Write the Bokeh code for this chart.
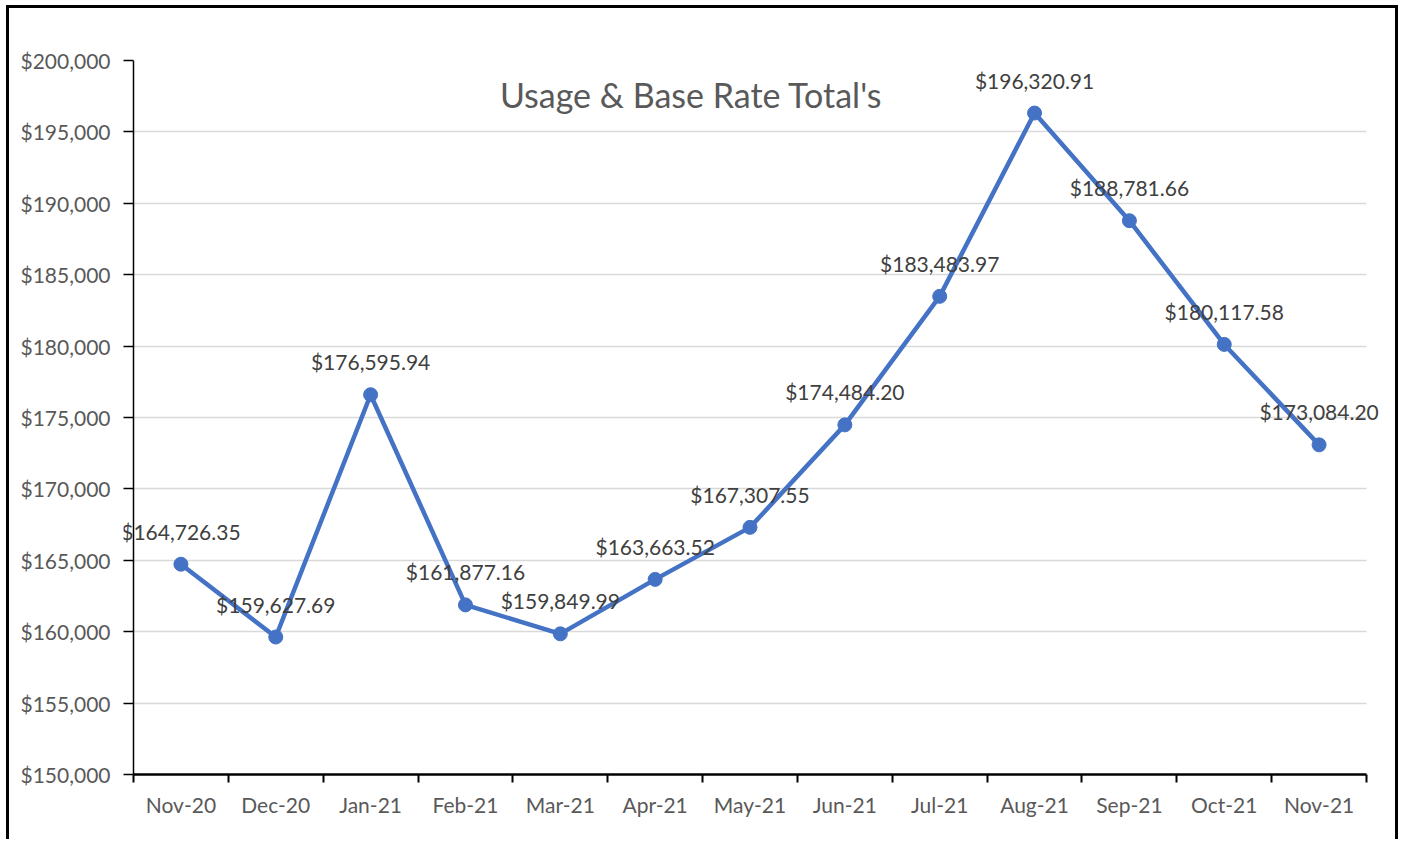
from bokeh.plotting import figure
from bokeh.models import (ColumnDataSource, FixedTicker, NumeralTickFormatter, Label, LabelSet,
                          Range1d, BoxAnnotation, Span)
from bokeh.core.properties import value
from bokeh.embed import file_html
from bokeh.resources import INLINE

months = ["Nov-20", "Dec-20", "Jan-21", "Feb-21", "Mar-21", "Apr-21", "May-21",
          "Jun-21", "Jul-21", "Aug-21", "Sep-21", "Oct-21", "Nov-21"]
totals = [164726.35, 159627.69, 176595.94, 161877.16, 159849.99, 163663.52, 167307.55,
          174484.20, 183483.97, 196320.91, 188781.66, 180117.58, 173084.20]
y_ticks = list(range(150000, 200001, 5000))
title_text = "Usage & Base Rate Total's"

FONT = "Lato"
n = len(months)
xpos = [i + 0.5 for i in range(n)]
labels = ["${:,.2f}".format(v) for v in totals]
src = ColumnDataSource(dict(x=xpos, y=totals, lab=labels))

p = figure(width=1392, height=834, output_backend="svg", toolbar_location=None,
           x_range=Range1d(-0.1054, n + 0.158), y_range=Range1d(150000, 200000),
           min_border_left=114, min_border_right=20, min_border_top=52, min_border_bottom=68)
p.styles = {"border-left": "3px solid black", "border-top": "3px solid black",
            "border-right": "3px solid black", "margin-left": "6px", "margin-top": "5px"}
p.outline_line_color = None
p.background_fill_color = "white"
p.border_fill_color = "white"

p.xgrid.grid_line_color = None
p.ygrid.grid_line_color = "#d9d9d9"
p.ygrid.grid_line_width = 1.5

# white covers so the grid stops at the axes (frame is slightly wider for label overflow)
p.add_layout(BoxAnnotation(right=0, fill_color="white", fill_alpha=1, line_color=None,
                           level="underlay"))
p.add_layout(BoxAnnotation(left=n, fill_color="white", fill_alpha=1, line_color=None,
                           level="underlay"))
# y axis line at x = 0
p.add_layout(Span(location=0, dimension="height", line_color="black", line_width=1.5))

# y axis (labels + ticks reaching in to the axis line)
p.yaxis.ticker = FixedTicker(ticks=y_ticks)
p.yaxis.formatter = NumeralTickFormatter(format="$0,0")
p.yaxis.axis_line_color = None
p.yaxis.major_tick_in = 10
p.yaxis.major_tick_out = 0
p.yaxis.major_tick_line_color = "black"
p.yaxis.major_tick_line_width = 1.5
p.yaxis.minor_tick_line_color = None
p.yaxis.major_label_text_font = FONT
p.yaxis.major_label_text_font_size = "21px"
p.yaxis.major_label_text_color = "#595959"
p.yaxis.major_label_standoff = 13

# x axis
p.xaxis.bounds = (0, n)
p.xaxis.ticker = FixedTicker(ticks=xpos, minor_ticks=list(range(n + 1)))
p.xaxis.major_label_overrides = {x: m for x, m in zip(xpos, months)}
p.xaxis.axis_line_color = "black"
p.xaxis.axis_line_width = 2.5
p.xaxis.major_tick_line_color = None
p.xaxis.minor_tick_line_color = "black"
p.xaxis.minor_tick_line_width = 2
p.xaxis.minor_tick_in = 0
p.xaxis.minor_tick_out = 8
p.xaxis.major_label_text_font = FONT
p.xaxis.major_label_text_font_size = "21px"
p.xaxis.major_label_text_color = "#595959"
p.xaxis.major_label_standoff = 9

p.line("x", "y", source=src, line_color="#4472C4", line_width=4.5)
p.scatter("x", "y", source=src, size=14, fill_color="#4472C4", line_color="#4472C4")

p.add_layout(LabelSet(x="x", y="y", text="lab", source=src, y_offset=33,
                      text_align="center", text_baseline="middle",
                      text_font=value(FONT), text_font_size="21px", text_color="#404040"))

p.add_layout(Label(x=5.88, y=197620, text=title_text, text_align="center",
                   text_baseline="middle", text_font=FONT, text_font_size="34px",
                   text_color="#595959"))

open("out.html", "w").write(file_html(p, INLINE))
